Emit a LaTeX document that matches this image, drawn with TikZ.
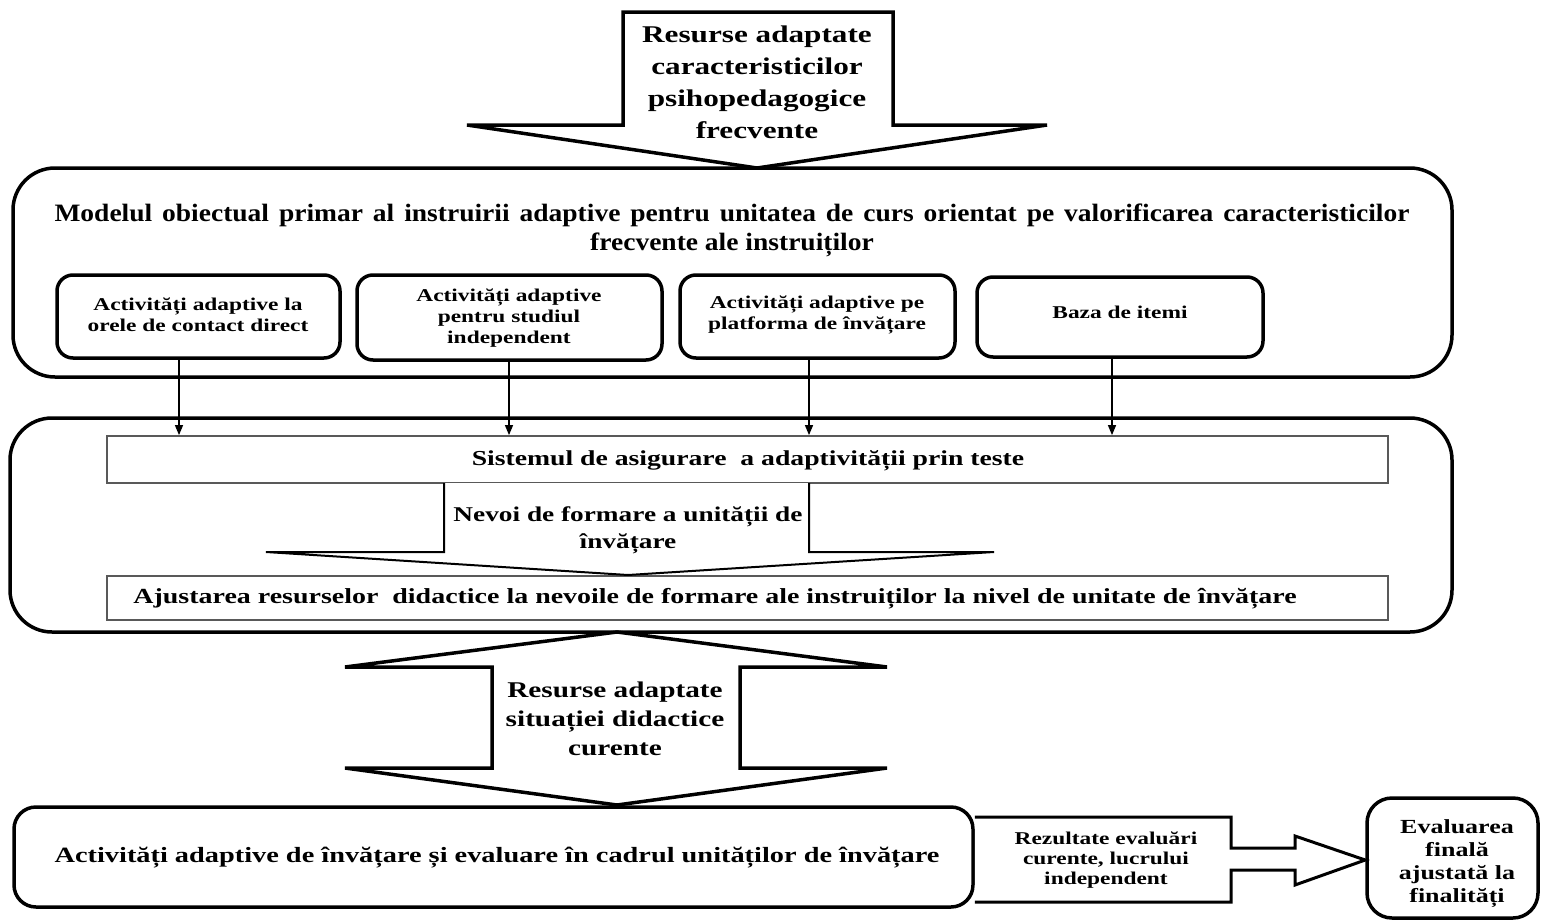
\documentclass[tikz,border=0pt]{standalone}
\usepackage{fontspec}
\setmainfont{Liberation Serif}[FakeStretch=1.3]
\newfontfamily\titlefont{Liberation Serif}[FakeStretch=1.1]
\usetikzlibrary{arrows.meta}

\tikzset{
  bigbox/.style={draw, line width=3.5pt, rounded corners=42pt, inner sep=0pt},
  itembox/.style={draw, line width=3.5pt, rounded corners=16pt, inner sep=0pt},
  itemtext/.style={align=center, inner sep=0pt, font=\fontsize{18}{21}\selectfont\bfseries},
  thinbox/.style={draw=black!65, line width=1.8pt, inner sep=0pt},
  blockarrow/.style={draw, line width=3.5pt, line join=miter, fill=white},
  thinarrow/.style={draw, line width=2pt, line join=miter, fill=white},
  conn/.style={draw, line width=1.3pt, -{Triangle[length=10pt,width=8pt]}},
  lbl/.style={align=center, inner sep=0pt},
}

\begin{document}
\begin{tikzpicture}[x=1pt,y=-1pt]
\useasboundingbox (0,0) rectangle (1542,921);
\fill[white] (0,0) rectangle (1542,921);

% outer containers
\node[bigbox, minimum width=1439pt, minimum height=209pt] (model) at (732.5,272.5) {};
\node[bigbox, minimum width=1442pt, minimum height=214pt] (sys) at (731,525) {};

% input arrow on top
\draw[blockarrow] (623,12) -- (893,12) -- (893,125) -- (1047,125) -- (757,168)
  -- (467,125) -- (623,125) -- cycle;
\node[lbl, font=\fontsize{24}{32}\selectfont\bfseries] (res1) at (757,82)
  {Resurse adaptate\\caracteristicilor\\psihopedagogice\\frecvente};

% title of the model
\node[lbl, font=\titlefont\fontsize{25}{30}\selectfont\bfseries] (title1) at (732,215)
  {\makebox[1355pt][s]{Modelul obiectual primar al instruirii adaptive pentru unitatea de curs orientat pe valorificarea caracteristicilor}};
\node[lbl, font=\titlefont\fontsize{25}{30}\selectfont\bfseries] (title2) at (732,245)
  {frecvente ale instruiților};

% components of the model
\node[itembox, minimum width=283pt, minimum height=83pt] (a) at (198.5,316.5) {};
\node[itemtext] (atext) at (198,315) {Activități adaptive la\\orele de contact direct};
\node[itembox, minimum width=305pt, minimum height=85pt] (b) at (509.5,317.5) {};
\node[itemtext] (btext) at (509,318) {Activități adaptive\\pentru studiul\\independent};
\node[itembox, minimum width=275pt, minimum height=83pt] (c) at (817.5,316.5) {};
\node[itemtext] (ctext) at (817,315) {Activități adaptive pe\\platforma de învățare};
\node[itembox, minimum width=286pt, minimum height=80pt] (d) at (1120,317) {};
\node[itemtext] (dtext) at (1120,312) {Baza de itemi};

% testing system and adjustment
\node[thinbox, minimum width=1281pt, minimum height=47pt] (sist) at (747.5,459.5) {};
\node[lbl, font=\fontsize{21.3}{25}\selectfont\bfseries] (sisttext) at (748,461)
  {Sistemul de asigurare\ \ a adaptivității prin teste};
\node[thinbox, minimum width=1281pt, minimum height=44pt] (ajust) at (747.5,598) {};
\node[lbl, font=\fontsize{21.5}{25}\selectfont\bfseries] (ajusttext) at (715,599)
  {Ajustarea resurselor\ \ didactice la nevoile de formare ale instruiților la nivel de unitate de învățare};

% links from the components to the testing system
\coordinate (xa) at (179,0);
\coordinate (xb) at (509,0);
\coordinate (xc) at (809,0);
\coordinate (xd) at (1112,0);
\draw[conn] (a.south -| xa) -- (sist.north -| xa);
\draw[conn] (b.south -| xb) -- (sist.north -| xb);
\draw[conn] (c.south -| xc) -- (sist.north -| xc);
\draw[conn] (d.south -| xd) -- (sist.north -| xd);

% needs arrow
\draw[thinarrow] (444,483) -- (444,552) -- (266,552) -- (628,575) -- (994,552)
  -- (809,552) -- (809,483);
\node[lbl, font=\fontsize{21}{27}\selectfont\bfseries] (nevoi) at (628,530)
  {Nevoi de formare a unității de\\învățare};

% double arrow between the system and the activities
\draw[blockarrow] (617,632) -- (887,667) -- (740,667) -- (740,768) -- (887,768)
  -- (617,805) -- (345,768) -- (492,768) -- (492,667) -- (345,667) -- cycle;
\node[lbl, font=\fontsize{22.5}{29}\selectfont\bfseries] (res2) at (615,719)
  {Resurse adaptate\\situației didactice\\curente};

% learning activities, results and final evaluation
\node[draw, line width=3.5pt, rounded corners=22pt, minimum width=959pt,
  minimum height=100pt, inner sep=0pt] (act) at (493.5,857) {};
\node[lbl, font=\fontsize{21.8}{26}\selectfont\bfseries] (acttext) at (497,858)
  {Activități adaptive de învățare și evaluare în cadrul unităților de învățare};

\node[draw, line width=3.5pt, rounded corners=25pt, minimum width=171pt,
  minimum height=120pt, inner sep=0pt] (final) at (1452.5,858) {};
\node[lbl, font=\fontsize{20}{23}\selectfont\bfseries] (finaltext) at (1457,864)
  {Evaluarea\\finală\\ajustată la\\finalități};

\draw[line width=3pt, line join=miter, fill=white]
  (act.east |- 0,817) -- (1231,817) -- (1231,848) -- (1295,848) -- (1295,836)
  -- (final.west |- 0,860) -- (1295,885) -- (1295,870) -- (1231,870) -- (1231,902)
  -- (act.east |- 0,902);
\node[lbl, font=\fontsize{18}{20}\selectfont\bfseries] (rez) at (1106,860)
  {Rezultate evaluări\\curente, lucrului\\independent};

\end{tikzpicture}
\end{document}
